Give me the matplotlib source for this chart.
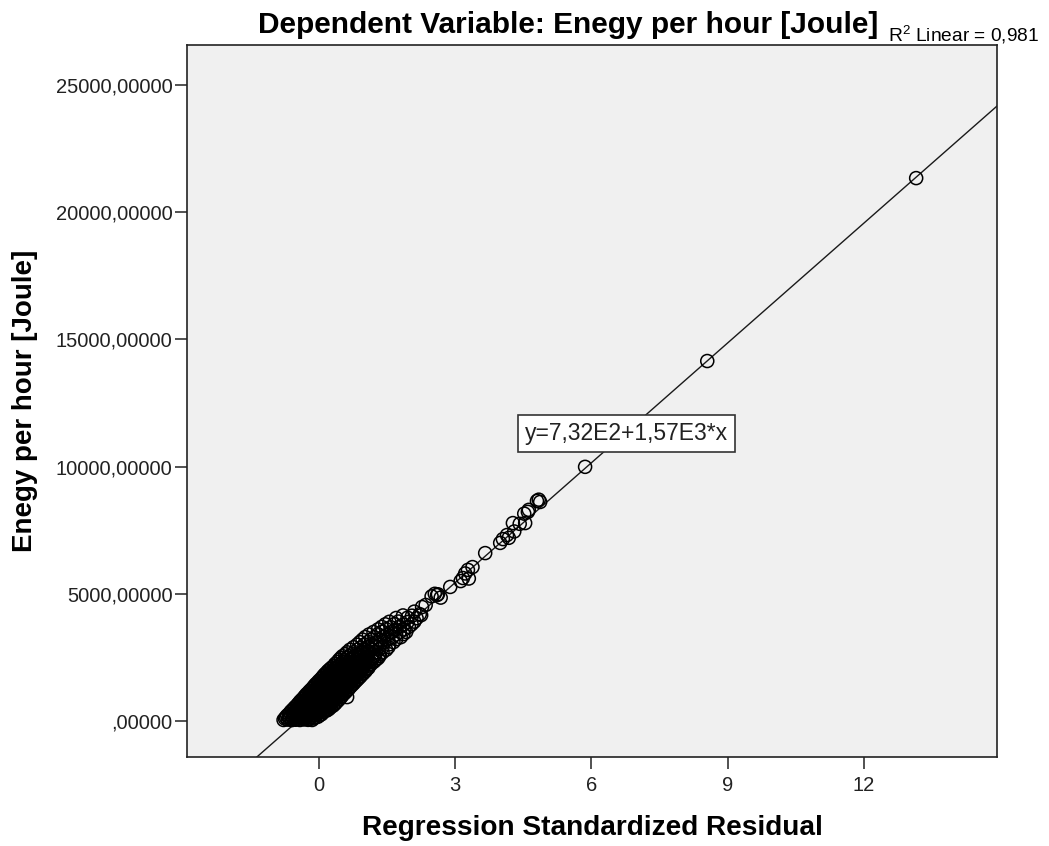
import numpy as np
import matplotlib.pyplot as plt

plt.rcParams['font.family'] = ['Liberation Sans', 'DejaVu Sans']
plt.rcParams['mathtext.fontset'] = 'custom'
plt.rcParams['mathtext.rm'] = 'Liberation Sans'

# Regression standardized residual (x) vs energy per hour (y)
resid = [
    -0.78, -0.69, -0.60, -0.51, -0.42, -0.33, -0.24, -0.15,
    -0.73, -0.64, -0.55, -0.46, -0.37, -0.28, -0.19, -0.10, -0.03,
    -0.66, -0.57, -0.48, -0.39, -0.30, -0.21, -0.12, -0.03, 0.06,
    -0.60, -0.51, -0.42, -0.33, -0.24, -0.15, -0.06, 0.03, 0.12, 0.17,
    -0.53, -0.44, -0.35, -0.26, -0.17, -0.08, 0.01, 0.10, 0.19, 0.26,
    -0.46, -0.37, -0.28, -0.19, -0.10, -0.01, 0.08, 0.17, 0.26, 0.35,
    -0.40, -0.31, -0.22, -0.13, -0.04, 0.05, 0.14, 0.23, 0.32, 0.42,
    -0.33, -0.24, -0.15, -0.06, 0.03, 0.12, 0.21, 0.30, 0.39, 0.48, 0.62,
    -0.27, -0.18, -0.09, 0.00, 0.09, 0.18, 0.27, 0.36, 0.45, 0.54,
    -0.20, -0.11, -0.02, 0.07, 0.16, 0.25, 0.34, 0.43, 0.52, 0.61,
    -0.13, -0.04, 0.05, 0.14, 0.23, 0.32, 0.41, 0.50, 0.59, 0.68,
    -0.07, 0.02, 0.11, 0.20, 0.29, 0.38, 0.47, 0.56, 0.65, 0.75,
    0.00, 0.09, 0.18, 0.27, 0.36, 0.45, 0.54, 0.63, 0.72, 0.82,
    0.07, 0.16, 0.25, 0.34, 0.43, 0.52, 0.61, 0.70, 0.79, 0.89,
    0.13, 0.22, 0.31, 0.40, 0.49, 0.58, 0.67, 0.76, 0.85, 0.96,
    0.20, 0.29, 0.38, 0.47, 0.56, 0.65, 0.74, 0.83, 0.92, 1.03,
    0.28, 0.38, 0.48, 0.58, 0.68, 0.78, 0.88, 0.98, 1.09,
    0.36, 0.47, 0.58, 0.69, 0.80, 0.91, 1.02, 1.15,
    0.44, 0.56, 0.68, 0.80, 0.92, 1.04, 1.16, 1.25,
    0.52, 0.66, 0.80, 0.94, 1.08, 1.22, 1.33,
    0.62, 0.78, 0.94, 1.10, 1.26, 1.40,
    0.76, 0.92, 1.08, 1.24, 1.40, 1.53,
    0.90, 1.08, 1.26, 1.44, 1.64,
    1.02, 1.22, 1.42, 1.62, 1.80,
    1.20, 1.40, 1.60, 1.78, 1.92,
    1.38, 1.58, 1.78, 1.98,
    1.55, 1.75, 1.95, 2.10,
    1.85, 2.05, 2.25,
    # in-between rows of the dense cluster
    -0.75, -0.66, -0.57, -0.48, -0.39, -0.30, -0.21, -0.12,
    -0.70, -0.61, -0.52, -0.43, -0.34, -0.25, -0.16, -0.07, 0.01,
    -0.63, -0.54, -0.45, -0.36, -0.27, -0.18, -0.09, 0.00, 0.09,
    -0.56, -0.47, -0.38, -0.29, -0.20, -0.11, -0.02, 0.07, 0.16, 0.22,
    -0.49, -0.40, -0.31, -0.22, -0.13, -0.04, 0.05, 0.14, 0.23, 0.31,
    -0.43, -0.34, -0.25, -0.16, -0.07, 0.02, 0.11, 0.20, 0.29, 0.38,
    -0.36, -0.27, -0.18, -0.09, 0.00, 0.09, 0.18, 0.27, 0.36, 0.45,
    -0.30, -0.21, -0.12, -0.03, 0.06, 0.15, 0.24, 0.33, 0.42, 0.51,
    -0.23, -0.14, -0.05, 0.04, 0.13, 0.22, 0.31, 0.40, 0.49, 0.58,
    -0.16, -0.07, 0.02, 0.11, 0.20, 0.29, 0.38, 0.47, 0.56, 0.65,
    -0.10, -0.01, 0.08, 0.17, 0.26, 0.35, 0.44, 0.53, 0.62, 0.71,
    -0.03, 0.06, 0.15, 0.24, 0.33, 0.42, 0.51, 0.60, 0.69, 0.78,
    0.04, 0.13, 0.22, 0.31, 0.40, 0.49, 0.58, 0.67, 0.76, 0.85,
    0.10, 0.19, 0.28, 0.37, 0.46, 0.55, 0.64, 0.73, 0.82, 0.92,
    0.17, 0.26, 0.35, 0.44, 0.53, 0.62, 0.71, 0.80, 0.89, 0.99,
    0.24, 0.34, 0.44, 0.54, 0.64, 0.74, 0.84, 0.94, 1.05,
    0.33, 0.44, 0.55, 0.66, 0.77, 0.88, 0.99, 1.10,
    0.41, 0.53, 0.65, 0.77, 0.89, 1.01, 1.13, 1.21,
    0.48, 0.62, 0.76, 0.90, 1.04, 1.18, 1.30,
    0.58, 0.72, 0.88, 1.02, 1.18, 1.34,
    0.68, 0.85, 1.00, 1.16, 1.32, 1.48,
    0.84, 1.00, 1.17, 1.35, 1.55,
    0.96, 1.15, 1.33, 1.52, 1.70,
    1.10, 1.30, 1.50, 1.70, 1.86,
    1.30, 1.48, 1.68, 1.88,
    1.46, 1.66, 1.86, 2.04,
    1.70, 1.95, 2.15,
    # upper tail and outliers
    2.10, 2.22, 2.27, 2.35,
    2.48, 2.55, 2.60, 2.62, 2.68, 2.89,
    3.12, 3.17, 3.22, 3.28, 3.30, 3.38, 3.66,
    3.99, 4.05, 4.14, 4.18, 4.27, 4.30,
    4.42, 4.52, 4.54, 4.60, 4.62, 4.80, 4.84, 4.87,
    5.86, 8.55, 13.15,
]
energy = [
    40, 55, 35, 50, 40, 60, 45, 40,
    150, 140, 160, 150, 145, 155, 150, 140, 160,
    280, 290, 270, 285, 280, 275, 290, 280, 270,
    410, 400, 420, 410, 405, 415, 410, 400, 420, 410,
    540, 550, 530, 545, 540, 535, 550, 540, 530, 545,
    670, 660, 680, 670, 665, 675, 670, 660, 680, 670,
    800, 810, 790, 805, 800, 795, 810, 800, 790, 805,
    930, 920, 940, 930, 925, 935, 930, 920, 940, 930, 940,
    1060, 1070, 1050, 1065, 1060, 1055, 1070, 1060, 1050, 1065,
    1190, 1180, 1200, 1190, 1185, 1195, 1190, 1180, 1200, 1190,
    1320, 1330, 1310, 1325, 1320, 1315, 1330, 1320, 1310, 1325,
    1450, 1440, 1460, 1450, 1445, 1455, 1450, 1440, 1460, 1450,
    1580, 1590, 1570, 1585, 1580, 1575, 1590, 1580, 1570, 1585,
    1710, 1700, 1720, 1710, 1705, 1715, 1710, 1700, 1720, 1710,
    1840, 1850, 1830, 1845, 1840, 1835, 1850, 1840, 1830, 1845,
    1970, 1960, 1980, 1970, 1965, 1975, 1970, 1960, 1980, 1970,
    2100, 2110, 2090, 2105, 2100, 2095, 2110, 2100, 2090,
    2250, 2240, 2260, 2250, 2245, 2255, 2250, 2240,
    2400, 2410, 2390, 2405, 2400, 2395, 2410, 2400,
    2550, 2540, 2560, 2550, 2545, 2555, 2550,
    2700, 2710, 2690, 2705, 2700, 2695,
    2900, 2890, 2910, 2900, 2895, 2905,
    3100, 3110, 3090, 3105, 3100,
    3300, 3290, 3310, 3300, 3295,
    3500, 3510, 3490, 3505, 3500,
    3700, 3690, 3710, 3700,
    3900, 3910, 3890, 3905,
    4150, 4140, 4160,
    # in-between rows of the dense cluster
    95, 100, 90, 95, 105, 95, 90, 100,
    215, 220, 210, 215, 225, 215, 210, 220, 215,
    345, 350, 340, 345, 355, 345, 340, 350, 345,
    475, 480, 470, 475, 485, 475, 470, 480, 475, 470,
    605, 610, 600, 605, 615, 605, 600, 610, 605, 600,
    735, 740, 730, 735, 745, 735, 730, 740, 735, 730,
    865, 870, 860, 865, 875, 865, 860, 870, 865, 860,
    995, 1000, 990, 995, 1005, 995, 990, 1000, 995, 990,
    1125, 1130, 1120, 1125, 1135, 1125, 1120, 1130, 1125, 1120,
    1255, 1260, 1250, 1255, 1265, 1255, 1250, 1260, 1255, 1250,
    1385, 1390, 1380, 1385, 1395, 1385, 1380, 1390, 1385, 1380,
    1515, 1520, 1510, 1515, 1525, 1515, 1510, 1520, 1515, 1510,
    1645, 1650, 1640, 1645, 1655, 1645, 1640, 1650, 1645, 1640,
    1775, 1780, 1770, 1775, 1785, 1775, 1770, 1780, 1775, 1770,
    1905, 1910, 1900, 1905, 1915, 1905, 1900, 1910, 1905, 1900,
    2035, 2040, 2030, 2035, 2045, 2035, 2030, 2040, 2035,
    2175, 2180, 2170, 2175, 2185, 2175, 2170, 2180,
    2325, 2330, 2320, 2325, 2335, 2325, 2320, 2330,
    2475, 2480, 2470, 2475, 2485, 2475, 2470,
    2625, 2630, 2620, 2625, 2635, 2625,
    2800, 2810, 2790, 2800, 2815, 2800,
    3000, 3010, 2990, 3000, 3015,
    3200, 3210, 3190, 3200, 3215,
    3400, 3410, 3390, 3400, 3415,
    3600, 3610, 3590, 3600,
    3800, 3810, 3790, 3800,
    4050, 4060, 4040,
    # upper tail and outliers
    4300, 4200, 4480, 4560,
    4900, 5000, 4950, 4980, 4850, 5270,
    5500, 5620, 5800, 5940, 5600, 6050, 6600,
    7000, 7150, 7310, 7200, 7780, 7450,
    7750, 8150, 7780, 8220, 8300, 8650, 8700, 8610,
    9990, 14150, 21340,
]

intercept, slope = 732, 1570
y_ticks = [0, 5000, 10000, 15000, 20000, 25000]
y_labels = [',00000', '5000,00000', '10000,00000', '15000,00000', '20000,00000', '25000,00000']
x_ticks = [0, 3, 6, 9, 12]

fig = plt.figure(figsize=(10.49, 8.46), dpi=100)
ax = fig.add_axes([187 / 1049, 1 - 757 / 846, 810 / 1049, 712 / 846])
ax.set_facecolor('#f0f0f0')

ax.set_xlim(-2.906, 14.93)
ax.set_ylim(-1415, 26572)

xs = np.array(ax.get_xlim())
ax.plot(xs, intercept + slope * xs, color='#1a1a1a', lw=1.0, zorder=2)
ax.scatter(resid, energy, s=88, facecolors='none', edgecolors='black', linewidths=1.1, zorder=3)

ax.set_xticks(x_ticks)
ax.set_xticklabels([str(t) for t in x_ticks])
ax.set_yticks(y_ticks)
ax.set_yticklabels(y_labels)
ax.tick_params(axis='both', direction='out', length=8.5, width=1.1, colors='#222222', labelsize=14.5, labelcolor='#222222')
ax.tick_params(axis='y', pad=2)
ax.tick_params(axis='x', pad=5)
for sp in ax.spines.values():
    sp.set_linewidth(1.2)
    sp.set_color('#222222')

ax.text(0.5426, 0.4544, 'y=7,32E2+1,57E3*x', transform=ax.transAxes, ha='center', va='center',
        fontsize=16.5, color='#222222',
        bbox=dict(boxstyle='square,pad=0.3', facecolor='white', edgecolor='#333333', linewidth=1.2))

fig.text(258 / 1049, 1 - 33 / 846, 'Dependent Variable: Enegy per hour [Joule]', ha='left', va='baseline',
         fontsize=21.5, fontweight='bold', color='black')
fig.text(888 / 1049, 1 - 42 / 846, r'R$^{\mathrm{2}}$ Linear = 0,981', ha='left', va='baseline',
         fontsize=13.8, color='black')

fig.text(592 / 1049, 1 - 828 / 846, 'Regression Standardized Residual', ha='center', va='center',
         fontsize=20.2, fontweight='bold')
fig.text(25 / 1049, 1 - 401 / 846, 'Enegy per hour [Joule]', ha='center', va='center', rotation=90,
         fontsize=20, fontweight='bold')

fig.savefig('out.png', dpi=100)
